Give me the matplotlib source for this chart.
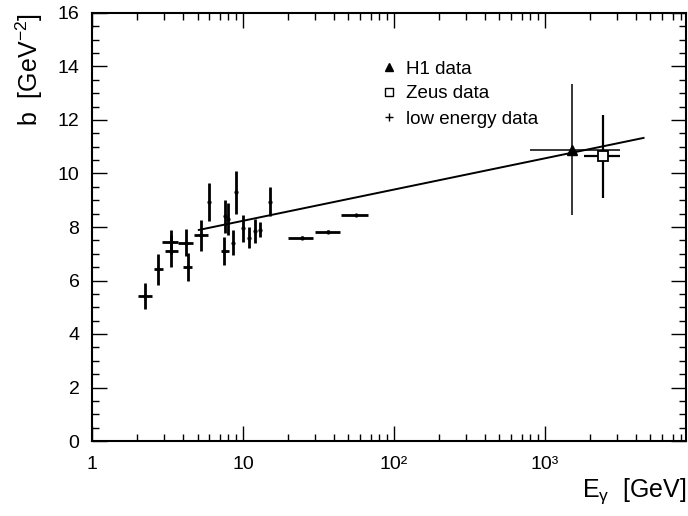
import matplotlib
matplotlib.use("Agg")
import matplotlib.pyplot as plt
from matplotlib.lines import Line2D
from matplotlib.ticker import FixedLocator, LogLocator, NullFormatter, MultipleLocator

plt.rcParams['font.family'] = ['Liberation Sans', 'DejaVu Sans']
plt.rcParams['mathtext.fontset'] = 'custom'
plt.rcParams['mathtext.rm'] = 'Liberation Sans'
plt.rcParams['mathtext.it'] = 'Liberation Sans:italic'

# low energy data: E_gamma [GeV], b [GeV^-2], x range, y error
low_E = [2.25, 2.75, 3.33, 3.33, 4.19, 4.3, 5.27, 6.0, 7.55, 7.9, 7.5,
         8.53, 8.98, 9.95, 11.0, 12.1, 13.0, 15.0, 24.7, 36.7, 56.1]
low_b = [5.42, 6.42, 7.45, 7.1, 7.42, 6.52, 7.7, 8.94, 8.4, 8.3, 7.1,
         7.42, 9.3, 7.95, 7.6, 7.85, 7.9, 8.95, 7.6, 7.82, 8.45]
low_Elo = [2.03, 2.57, 2.93, 3.05, 3.74, 3.98, 4.76, 6.0, 7.55, 7.9, 7.18,
           8.53, 8.98, 9.95, 11.0, 12.1, 13.0, 15.0, 19.8, 29.8, 44.5]
low_Ehi = [2.49, 2.96, 3.69, 3.69, 4.69, 4.63, 5.84, 6.0, 7.55, 7.9, 8.13,
           8.53, 8.98, 9.95, 11.0, 12.1, 13.0, 15.0, 29.1, 43.9, 67.6]
low_db = [0.5, 0.58, 0.45, 0.6, 0.5, 0.52, 0.58, 0.7, 0.62, 0.6, 0.53,
          0.47, 0.8, 0.5, 0.4, 0.45, 0.27, 0.53, 0.06, 0.05, 0.05]

# H1 point
h1_E = [1514]
h1_b = [10.88]
h1_Elo = [800]
h1_Ehi = [3160]
h1_db = [2.45]

# Zeus point
zeus_E = [2410]
zeus_b = [10.65]
zeus_Elo = [1820]
zeus_Ehi = [3160]
zeus_dblo = [1.58]
zeus_dbhi = [1.55]

# fitted line
fit_E = [5.1, 4500]
fit_b = [7.89, 11.33]

x_ticks = [1, 10, 100, 1000]
x_ticklabels = ['1', '10', '10\u00b2', '10\u00b3']

fig = plt.figure(figsize=(6.88, 5.16), dpi=100)
ax = fig.add_axes([92 / 688, 75 / 516, 594 / 688, 428 / 516])

xerr_low = [[e - lo for e, lo in zip(low_E, low_Elo)],
            [hi - e for e, hi in zip(low_E, low_Ehi)]]
ax.errorbar(low_E, low_b, xerr=xerr_low, yerr=low_db, fmt='o', ms=2,
            color='black', elinewidth=2.0, capsize=0)

ax.plot(fit_E, fit_b, color='black', lw=1.4)

ax.errorbar(h1_E, h1_b,
            xerr=[[h1_E[0] - h1_Elo[0]], [h1_Ehi[0] - h1_E[0]]],
            yerr=h1_db, fmt='^', ms=7, color='black', elinewidth=1.1, capsize=0)
ax.errorbar(zeus_E, zeus_b,
            xerr=[[zeus_E[0] - zeus_Elo[0]], [zeus_Ehi[0] - zeus_E[0]]],
            yerr=[zeus_dblo, zeus_dbhi], fmt='s', ms=7, mfc='white', mec='black',
            mew=1.3, color='black', elinewidth=1.6, capsize=0)

ax.set_xscale('log')
ax.set_xlim(1, 8600)
ax.set_ylim(0, 16)

ax.xaxis.set_major_locator(FixedLocator(x_ticks))
ax.set_xticklabels(x_ticklabels)
ax.xaxis.set_minor_locator(LogLocator(base=10, subs=range(2, 10)))
ax.xaxis.set_minor_formatter(NullFormatter())
ax.yaxis.set_major_locator(MultipleLocator(2))
ax.yaxis.set_minor_locator(MultipleLocator(0.5))

ax.tick_params(which='both', direction='in', top=True, right=True,
               labelsize=14, width=1)
ax.tick_params(which='major', length=11)
ax.tick_params(which='minor', length=5)
ax.tick_params(axis='x', pad=11)
ax.tick_params(axis='y', pad=9)
for s in ax.spines.values():
    s.set_linewidth(1.5)

ax.set_xlabel('E$_{\\mathregular{\u03b3}}$  [GeV]', fontsize=18, loc='right', labelpad=2)
ax.set_ylabel(r'b  [GeV$^{-2}$]', fontsize=18, loc='top', labelpad=9)

handles = [Line2D([], [], marker='^', ls='none', color='black', ms=5.5),
           Line2D([], [], marker='s', ls='none', mfc='white', mec='black', ms=5.5),
           Line2D([], [], marker='+', ls='none', color='black', ms=6)]
ax.legend(handles, ['H1 data', 'Zeus data', 'low energy data'],
          loc='upper left', bbox_to_anchor=(372 / 688, 1 - 51 / 516),
          bbox_transform=fig.transFigure, frameon=False, fontsize=13.5,
          handlelength=0.8, handletextpad=0.5, labelspacing=0.42, borderpad=0)

fig.savefig('out.png', dpi=100)
